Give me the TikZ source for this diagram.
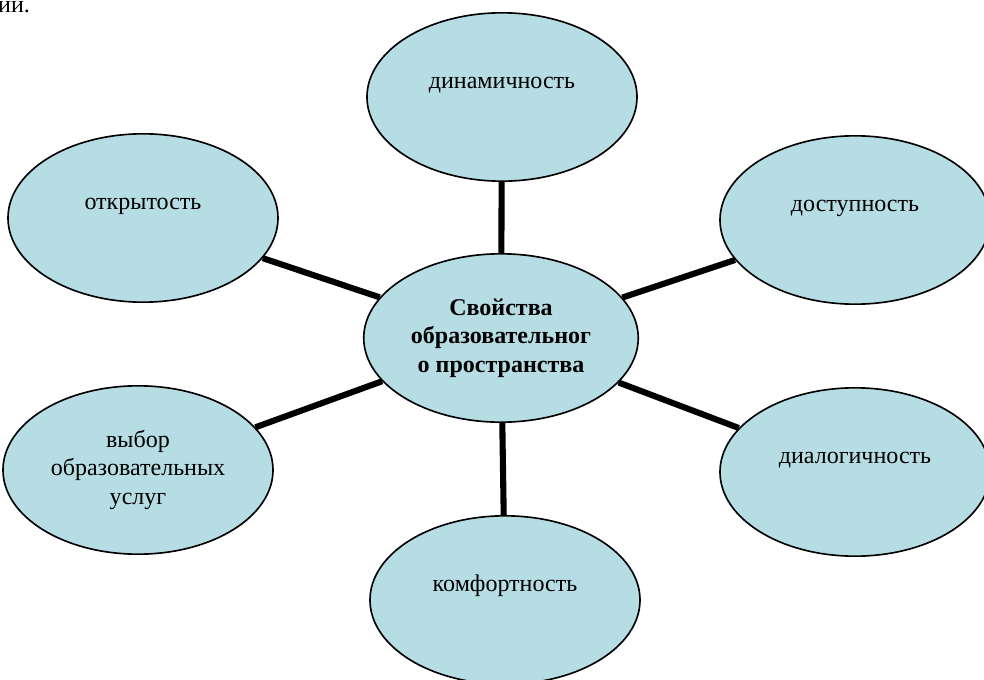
\documentclass[tikz,border=0pt]{standalone}
\usepackage{fontspec}
\setmainfont{Liberation Serif}
\usepackage{tikz}
\usetikzlibrary{shapes,positioning}
\usepackage{xcolor}
\definecolor{dsblue}{RGB}{183,221,228}
\tikzstyle{link} = [line width=5.2pt, color=black]
\tikzstyle{bubble} = [ellipse, draw=black, line width=1.4pt, fill=dsblue, minimum width=8.1cm, minimum height=5.05cm, inner sep=0pt, text centered, font=\fontsize{20.5}{24.5}\selectfont]
\tikzstyle{lifted} = [text height=9pt, text depth=24pt]

\begin{document}
\begin{tikzpicture}[x=0.03cm, y=-0.03cm]
\useasboundingbox (0,0) rectangle (984,680);
% cut-off line of the text above
\node (prev) [anchor=base west, inner sep=0pt, font=\fontsize{20.5}{24.5}\selectfont] at (-2,13) {ии.};

% centre
\node (core) [bubble] at (501,338) {
\begin{tabular}{c}
\textbf{Свойства}\\
\textbf{образовательног}\\
\textbf{о пространства}
\end{tabular}
};

% properties round it
\node (dyn) [bubble, lifted] at (502,97) {динамичность};
\node (open) [bubble, lifted] at (143,218) {открытость};
\node (access) [bubble, lifted] at (855,220) {доступность};
\node (choice) [bubble] at (138,470) {
\raisebox{10pt}{\begin{tabular}{c}
выбор\\
образовательных\\
услуг
\end{tabular}}
};
\node (dialog) [bubble, lifted] at (855,472) {диалогичность};
\node (comfort) [bubble, lifted] at (505,600) {комфортность};

% spokes
\draw[link] (core) -- (dyn);
\draw[link] (core) -- (open);
\draw[link] (core) -- (access);
\draw[link] (core) -- (choice);
\draw[link] (core) -- (dialog);
\draw[link] (core) -- (comfort);
\end{tikzpicture}
\end{document}
